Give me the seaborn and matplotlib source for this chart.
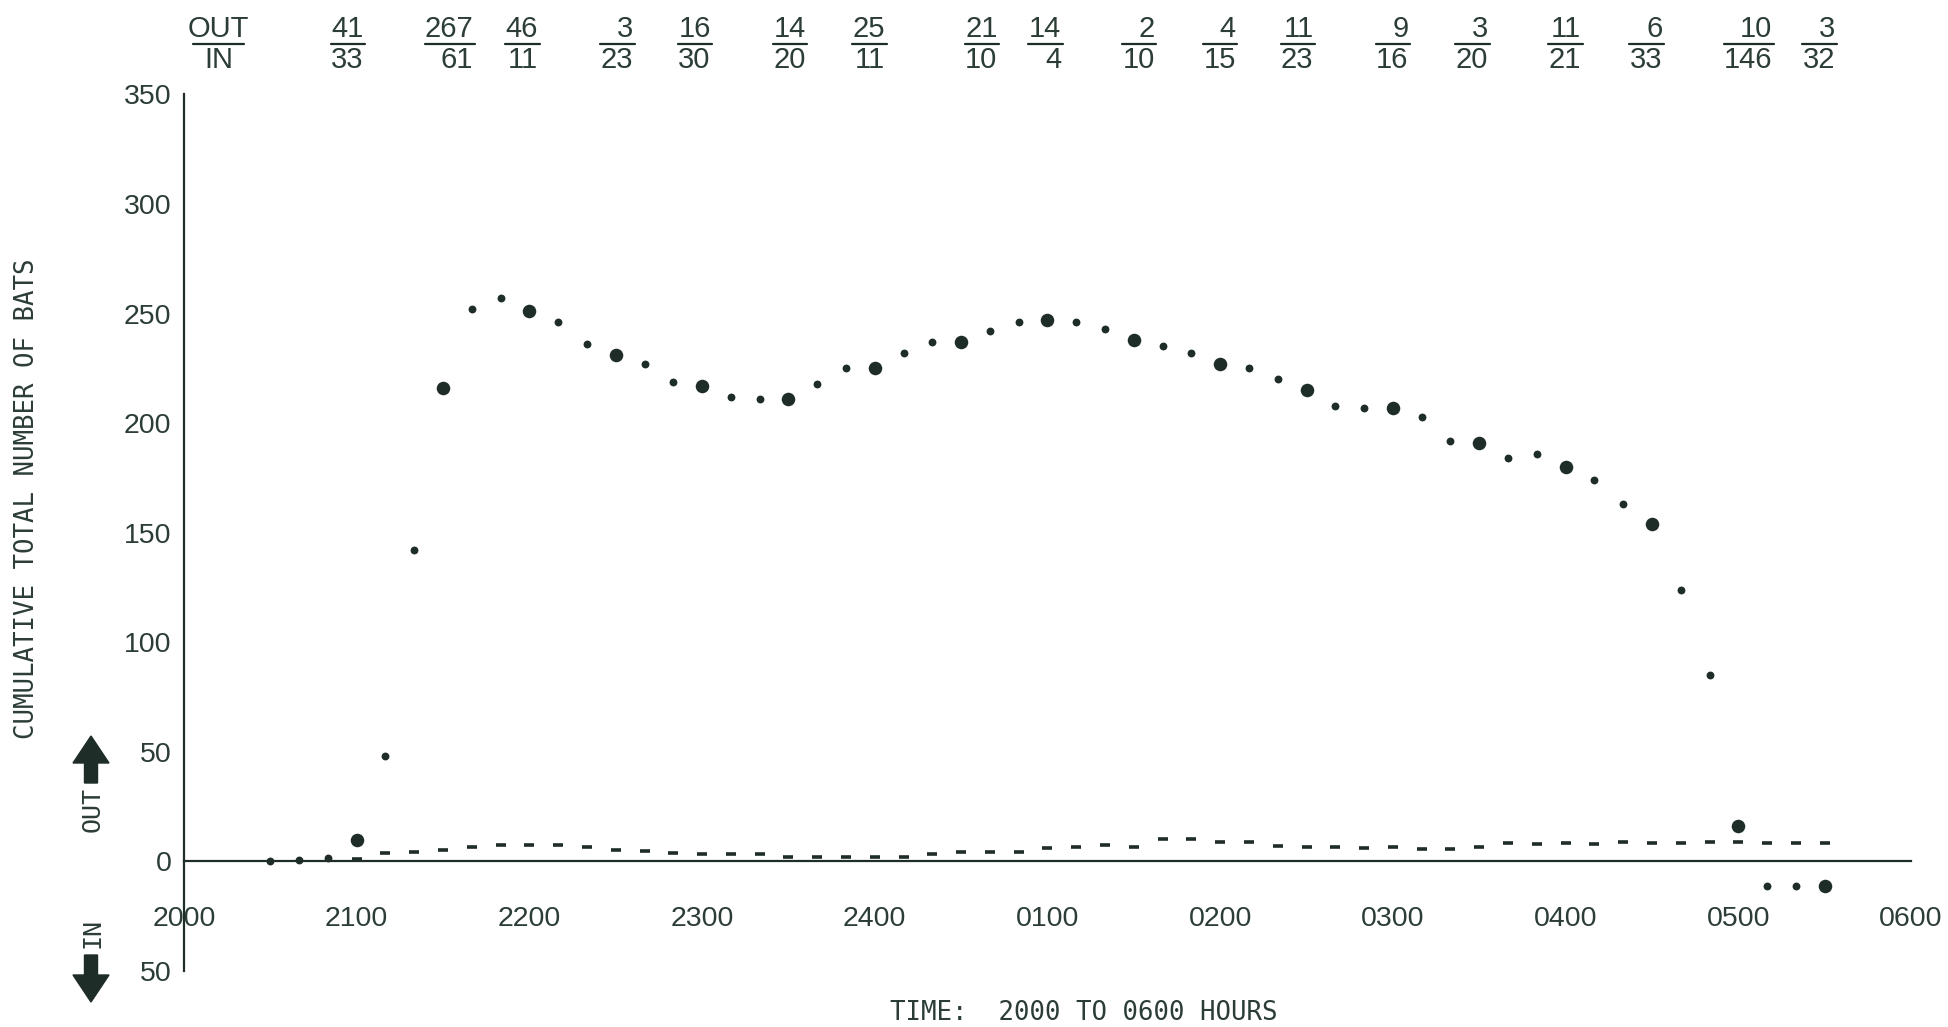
import matplotlib
matplotlib.use('Agg')
import matplotlib.pyplot as plt
import matplotlib.transforms as mtransforms
from matplotlib.patches import FancyArrow
import pandas as pd
import seaborn as sns

# half hour readings (large dots)
big_times = ['2100', '2130', '2200', '2230', '2300', '2330', '2400', '0030', '0100',
             '0130', '0200', '0230', '0300', '0330', '0400', '0430', '0500', '0530']
big_counts = [10, 216, 251, 231, 217, 211, 225, 237, 247,
              238, 227, 215, 207, 191, 180, 154, 16, -11]

# ten minute readings in between (small dots)
small_times = ['2030', '2040', '2050', '2110', '2120', '2140', '2150', '2210', '2220',
               '2240', '2250', '2310', '2320', '2340', '2350', '0010', '0020', '0040',
               '0050', '0110', '0120', '0140', '0150', '0210', '0220', '0240', '0250',
               '0310', '0320', '0340', '0350', '0410', '0420', '0440', '0450', '0510', '0520']
small_counts = [0, 0.5, 1.5, 48, 142, 252, 257, 246, 236,
                227, 219, 212, 211, 218, 225, 232, 237, 242,
                246, 246, 243, 235, 232, 225, 220, 208, 207,
                203, 192, 184, 186, 174, 163, 124, 85, -11, -11]

# dashed series near the zero line
dash_times = ['2100', '2110', '2120', '2130', '2140', '2150', '2200', '2210', '2220', '2230',
              '2240', '2250', '2300', '2310', '2320', '2330', '2340', '2350', '2400', '0010',
              '0020', '0030', '0040', '0050', '0100', '0110', '0120', '0130', '0140', '0150',
              '0200', '0210', '0220', '0230', '0240', '0250', '0300', '0310', '0320', '0330',
              '0340', '0350', '0400', '0410', '0420', '0430', '0440', '0450', '0500', '0510',
              '0520', '0530']
dash_counts = [1, 3.8, 4.5, 5.4, 6.6, 7.7, 7.7, 7.7, 6.6, 5.1,
               4.7, 3.7, 3.2, 3.2, 3.2, 2.1, 2.1, 2.0, 2.1, 2.1,
               3.2, 4.3, 4.3, 4.3, 6.1, 6.5, 7.3, 6.4, 10.3, 10.2,
               9.1, 8.8, 7.2, 6.7, 6.6, 6.1, 6.5, 5.8, 5.8, 6.8,
               8.5, 8.1, 8.5, 8.1, 8.7, 8.4, 8.4, 8.7, 8.7, 8.5,
               8.5, 8.5]

# counts out / in per half hour, printed along the top
out_counts = [41, 267, 46, 3, 16, 14, 25, 21, 14, 2, 4, 11, 9, 3, 11, 6, 10, 3]
in_counts = [33, 61, 11, 23, 30, 20, 11, 10, 4, 10, 15, 23, 16, 20, 21, 33, 146, 32]
label_nudge = [-0.05, 0.04, -0.04, 0.01, -0.04, 0.01, -0.03, 0.12, -0.01,
               0.03, 0.0, -0.05, 0.0, -0.04, 0.0, -0.03, 0.06, -0.03]

hour_labels = ['2000', '2100', '2200', '2300', '2400', '0100',
               '0200', '0300', '0400', '0500', '0600']
y_values = [-50, 0, 50, 100, 150, 200, 250, 300, 350]
y_labels = ['50', '0', '50', '100', '150', '200', '250', '300', '350']


def to_hours(t):
    h, m = int(t[:2]), int(t[2:])
    return (h - 20) % 24 + m / 60


big = pd.DataFrame({'hours': [to_hours(t) for t in big_times], 'bats': big_counts})
small = pd.DataFrame({'hours': [to_hours(t) for t in small_times], 'bats': small_counts})
dash = pd.DataFrame({'hours': [to_hours(t) for t in dash_times], 'bats': dash_counts})

sns.set_style('white')
plt.rcParams['font.family'] = ['Liberation Sans', 'DejaVu Sans']
ink = '#1f2d28'
txt = '#2b3d35'

fig = plt.figure(figsize=(19.49, 10.27), dpi=100)
ax = fig.add_axes([0.0944, 0.0545, 0.8861, 0.8535])

sns.scatterplot(data=dash, x='hours', y='bats', marker='_', s=45, linewidth=2.6,
                color=ink, ax=ax, zorder=3)
sns.scatterplot(data=small, x='hours', y='bats', s=32, linewidth=0, color=ink, ax=ax, zorder=4)
sns.scatterplot(data=big, x='hours', y='bats', s=95, linewidth=0, color=ink, ax=ax, zorder=5)

ax.set_xlim(0, 10)
ax.set_ylim(-50, 350)
for side in ['top', 'right']:
    ax.spines[side].set_visible(False)
ax.spines['bottom'].set_position(('data', 0))
ax.spines['bottom'].set_color(ink)
ax.spines['left'].set_color(ink)
ax.spines['bottom'].set_linewidth(1.6)
ax.spines['left'].set_linewidth(1.6)

ax.set_xticks(range(11))
ax.set_xticklabels(hour_labels)
ax.set_xticks([h + 0.5 for h in range(10)], minor=True)
ax.tick_params(axis='x', which='both', direction='out', length=8, width=1.4,
               color=ink, labelsize=20.5, labelcolor=txt, pad=24)
ax.set_yticks(y_values)
ax.set_yticklabels(y_labels)
ax.tick_params(axis='y', direction='out', length=4, width=1.4, color=ink,
               labelsize=20.5, labelcolor=txt, pad=5)
ax.set_xlabel('')
ax.set_ylabel('')

# axis titles in typewriter style
fig.text(1084 / 1949, 1 - 1013 / 1027, 'TIME:  2000 TO 0600 HOURS', family='DejaVu Sans Mono',
         fontsize=18.5, color=txt, ha='center', va='center')
fig.text(27 / 1949, 1 - 499 / 1027, 'CUMULATIVE TOTAL NUMBER OF BATS', family='DejaVu Sans Mono',
         fontsize=18.5, color=txt, ha='center', va='center', rotation=90)

# OUT / IN direction markers
fig.text(93 / 1949, 1 - 809 / 1027, 'OUT', fontsize=18, color=txt, ha='center', va='center',
         rotation=90, family='DejaVu Sans Mono')
fig.text(93 / 1949, 1 - 933 / 1027, 'IN', fontsize=18, color=txt, ha='center', va='center',
         rotation=90, family='DejaVu Sans Mono')
idt = mtransforms.IdentityTransform()
fig.add_artist(FancyArrow(91, 244, 0, 47, width=13, head_width=36, head_length=27,
                          length_includes_head=True, color=ink, transform=idt))
fig.add_artist(FancyArrow(91, 72, 0, -47, width=13, head_width=36, head_length=27,
                          length_includes_head=True, color=ink, transform=idt))

# fractions along the top
top = mtransforms.blended_transform_factory(ax.transData, fig.transFigure)
y_num, y_bar, y_den = 1 - 37 / 1027, 1 - 44 / 1027, 1 - 68.5 / 1027
per_digit = 0.09


def fraction(xc, num, den, ha='right'):
    nd = max(len(str(num)), len(str(den)))
    half = per_digit * nd / 2 + 0.01
    ax.plot([xc - half, xc + half], [y_bar, y_bar], color=ink, lw=1.6,
            transform=top, clip_on=False)
    xt = xc + half - 0.01 if ha == 'right' else xc
    ax.text(xt, y_num, str(num), transform=top, ha=ha, va='baseline',
            fontsize=21, color=txt)
    ax.text(xt, y_den, str(den), transform=top, ha=ha, va='baseline',
            fontsize=21, color=txt)


fraction(0.2, 'OUT', 'IN', ha='center')
for t, o, i, n in zip(big_times, out_counts, in_counts, label_nudge):
    fraction(to_hours(t) + n, o, i)

fig.savefig('out.png', dpi=100, facecolor='white')
